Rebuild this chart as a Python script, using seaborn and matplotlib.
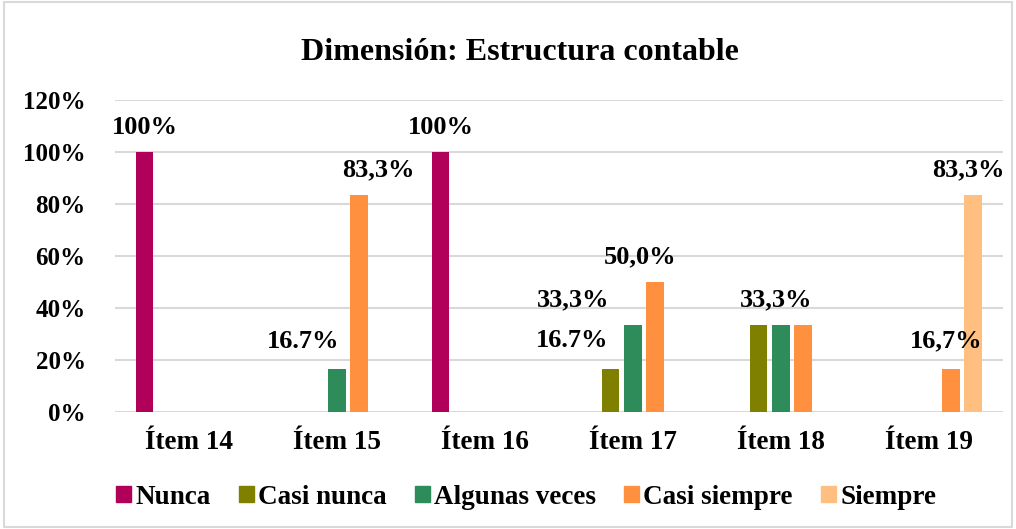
import matplotlib
matplotlib.use("Agg")
import matplotlib.pyplot as plt
from matplotlib.patches import Rectangle
import pandas as pd
import seaborn as sns

items = ["Ítem 14", "Ítem 15", "Ítem 16", "Ítem 17", "Ítem 18", "Ítem 19"]
levels = ["Nunca", "Casi nunca", "Algunas veces", "Casi siempre", "Siempre"]
nunca = [100, 0, 100, 0, 0, 0]
casi_nunca = [0, 0, 0, 16.7, 33.3, 0]
algunas_veces = [0, 16.7, 0, 33.3, 33.3, 0]
casi_siempre = [0, 83.3, 0, 50.0, 33.3, 16.7]
siempre = [0, 0, 0, 0, 0, 83.3]
yticks = [0, 20, 40, 60, 80, 100, 120]

# data labels shown in the chart: (item, level, text)
labels = [
    ("Ítem 14", "Nunca", "100%"),
    ("Ítem 15", "Algunas veces", "16.7%"),
    ("Ítem 15", "Casi siempre", "83,3%"),
    ("Ítem 16", "Nunca", "100%"),
    ("Ítem 17", "Casi nunca", "16.7%"),
    ("Ítem 17", "Algunas veces", "33,3%"),
    ("Ítem 17", "Casi siempre", "50,0%"),
    ("Ítem 18", "Algunas veces", "33,3%"),
    ("Ítem 19", "Casi siempre", "16,7%"),
    ("Ítem 19", "Siempre", "83,3%"),
]
# manual nudges (x in category units, y in %) as in the original
label_nudge = [(0, 9.6), (-0.23, 10.5), (0.13, 9.8), (0, 9.6), (-0.26, 11),
               (-0.40, 9.8), (-0.10, 9.6), (-0.03, 9.8), (-0.03, 10.6), (-0.03, 9.8)]

colors = ["#B0005A", "#808000", "#2E8B5A", "#FF9040", "#FFBF80"]

df = pd.DataFrame({"item": items, "Nunca": nunca, "Casi nunca": casi_nunca,
                   "Algunas veces": algunas_veces, "Casi siempre": casi_siempre,
                   "Siempre": siempre})
long = df.melt(id_vars="item", var_name="nivel", value_name="pct")

sns.set_style("white")
plt.rcParams["font.family"] = ["Liberation Serif", "DejaVu Serif"]
plt.rcParams["font.weight"] = "bold"
plt.rcParams["text.color"] = "black"
plt.rcParams["xtick.color"] = "black"
plt.rcParams["ytick.color"] = "black"

fig = plt.figure(figsize=(10.16, 5.29), dpi=100)
ax = fig.add_axes([0.113, 0.221, 0.874, 0.59])

sns.barplot(data=long, x="item", y="pct", hue="nivel", order=items,
            hue_order=levels, palette=colors, saturation=1, width=0.75, gap=0.2,
            linewidth=0, legend=False, ax=ax)

ax.set_ylim(0, 120)
ax.set_yticks(yticks)
ax.set_yticklabels([f"{v}%" for v in yticks])
ax.set_xlim(-0.5, len(items) - 0.5)
ax.set_xlabel("")
ax.set_ylabel("")
ax.yaxis.grid(True, color="#D9D9D9", linewidth=1.5)
ax.set_axisbelow(True)
for s in ax.spines.values():
    s.set_visible(False)
ax.tick_params(axis="y", length=0, pad=21, labelsize=18)
ax.tick_params(axis="x", length=0, pad=13, labelsize=19.5)
for t in ax.get_xticklabels() + ax.get_yticklabels():
    t.set_fontweight("bold")

for (item, lev, txt), (dx, dy) in zip(labels, label_nudge):
    bar = ax.containers[levels.index(lev)][items.index(item)]
    x = bar.get_x() + bar.get_width() / 2 + dx
    y = bar.get_height() + dy
    ax.text(x, y, txt, ha="center", va="center", fontsize=19, fontweight="bold")

fig.suptitle("Dimensión: Estructura contable", x=0.512, y=0.928, fontsize=23,
             fontweight="bold")

handles = [Rectangle((0, 0), 1, 1, color=c) for c in colors]
fig.legend(handles, levels, loc="center", bbox_to_anchor=(0.518, 0.06), ncol=5,
           frameon=False, handlelength=0.55, handleheight=0.55,
           handletextpad=0.15, columnspacing=1.05,
           prop={"weight": "bold", "size": 19.5})

fig.patches.append(Rectangle((0.004, 0.004), 0.992, 0.992, transform=fig.transFigure,
                             fill=False, edgecolor="#D9D9D9", linewidth=1.5))

fig.savefig("out.png", dpi=100)
